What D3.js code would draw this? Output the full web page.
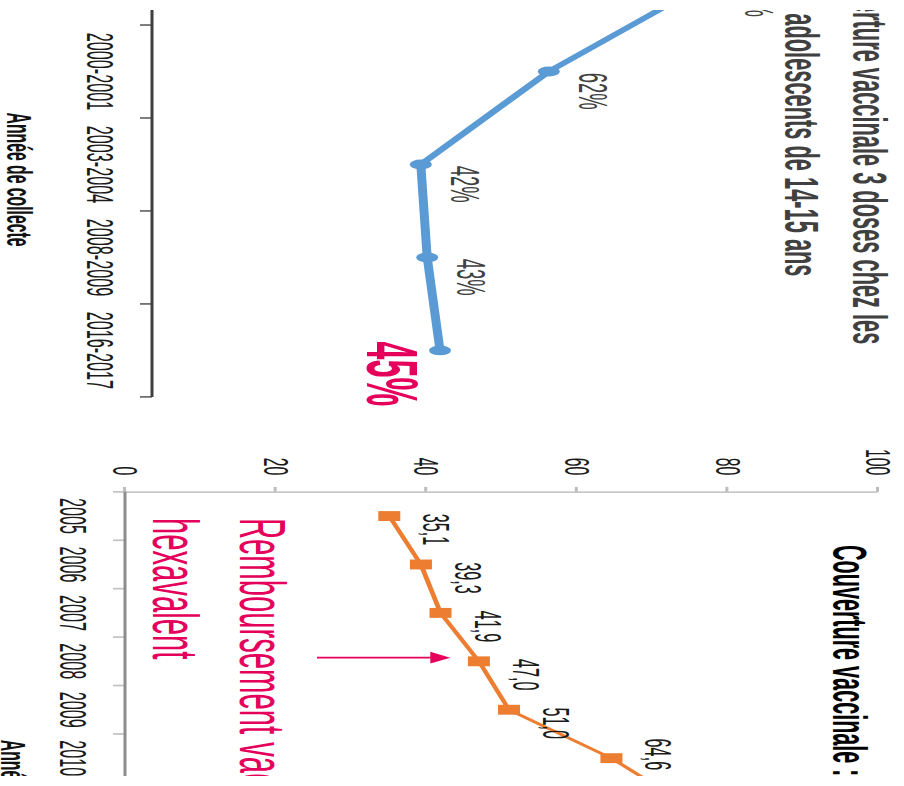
<!DOCTYPE html>
<html><head><meta charset="utf-8">
<script src="https://cdn.jsdelivr.net/npm/d3@7"></script>
<style>html,body{margin:0;padding:0;background:#fff;} svg{display:block;}</style>
</head><body>
<script>
// ---------- DATA ----------
const collecteYears = ["1998", "2000-2001", "2003-2004", "2008-2009", "2016-2017"];
const collecteValues = [88, 62, 42, 43, 45];
const birthYears = ["2005", "2006", "2007", "2008", "2009", "2010", "2011"];
const birthValues = [35.1, 39.3, 41.9, 47.0, 51.0, 64.6, 75];
const valueTicks = [0, 20, 40, 60, 80, 100];
const topTitle = ["Couverture vaccinale 3 doses chez les", "adolescents de 14-15 ans"];
const topAxisTitle = "Année de collecte";
const bottomTitle = "Couverture vaccinale :";
const bottomAxisTitle = "Année de naissance";
const annotation = ["Remboursement vaccin", "hexavalent"];
const annotationYear = "2008";
const annotationFrom = 25.5, annotationTo = 43.2;

// ---------- SETUP ----------
const W = 904, H = 786, S = 0.45;
const VIS_TOP = 10, VIS_BOTTOM = 776;          // visible window (picture px)
const FONT = "'Liberation Sans', Arial, sans-serif";
const BLUE = "#5b9bd5", ORANGE = "#ed7d31", PINK = "#e4005b";

const svg = d3.select("body").append("svg").attr("width", W).attr("height", H)
  .style("font-family", FONT);
svg.append("defs").append("clipPath").attr("id", "clip")
  .append("rect").attr("x", 0).attr("y", VIS_TOP).attr("width", W).attr("height", VIS_BOTTOM - VIS_TOP);
const outer = svg.append("g").attr("clip-path", "url(#clip)");
// chart drawn upright, then squeezed and rotated 90° clockwise
const g = outer.append("g").attr("transform", `translate(${W},0) rotate(90) scale(${S},1)`);
const uMin = VIS_TOP / S, uMax = VIS_BOTTOM / S;

// remove texts lying wholly outside the visible window
function dropHidden(sel) {
  sel.each(function() {
    const b = this.getBBox();
    if (b.x + b.width < uMin || b.x > uMax) d3.select(this).remove();
  });
}

// ---------- TOP PANEL (blue) ----------
const xTop = d3.scaleBand().domain(collecteYears).range([-151, 882]);
const yTop = d3.scaleLinear().domain([0, 100]).range([752, 112]);
const bwT = xTop.bandwidth();
const topG = g.append("g");

topG.append("line").attr("x1", xTop.range()[0]).attr("x2", xTop.range()[1])
  .attr("y1", yTop(0)).attr("y2", yTop(0)).attr("stroke", "#404040").attr("stroke-width", 3);
const topBounds = collecteYears.map(d => xTop(d)).concat([xTop.range()[1]]);
topG.selectAll(".tt").data(topBounds).enter().append("line")
  .attr("x1", d => d).attr("x2", d => d).attr("y1", yTop(0)).attr("y2", yTop(0) + 12)
  .attr("stroke", "#404040").attr("stroke-width", 3);
topG.selectAll(".tl").data(collecteYears).enter().append("text")
  .attr("x", d => xTop(d) + bwT / 2).attr("y", 817).attr("text-anchor", "middle")
  .attr("font-size", 36).attr("fill", "#1a1a1a").text(d => d)
  .call(dropHidden);
topG.append("text").attr("x", 399).attr("y", 897).attr("text-anchor", "middle")
  .attr("font-size", 35).attr("font-weight", "bold").attr("fill", "#111").text(topAxisTitle);

const topData = collecteYears.map((c, i) => ({c, v: collecteValues[i]}));
topG.append("path").datum(topData)
  .attr("d", d3.line().x(d => xTop(d.c) + bwT / 2).y(d => yTop(d.v)))
  .attr("fill", "none").attr("stroke", BLUE).attr("stroke-width", 9).attr("stroke-linejoin", "round");
topG.selectAll(".tm").data(topData).enter().append("circle")
  .attr("cx", d => xTop(d.c) + bwT / 2).attr("cy", d => yTop(d.v)).attr("r", 11).attr("fill", BLUE);
const lastT = topData.length - 1;
topG.selectAll(".tv").data(topData.slice(0, lastT)).enter().append("text")
  .attr("x", d => xTop(d.c) + bwT / 2 + 44).attr("y", d => yTop(d.v) - 30)
  .attr("text-anchor", "middle").attr("font-size", 41).attr("fill", "#404040")
  .text(d => d.v + "%");
topG.append("text").datum(topData[lastT])
  .attr("x", d => xTop(d.c) + bwT / 2 + 52).attr("y", d => yTop(d.v) + 73)
  .attr("text-anchor", "middle").attr("font-size", 72).attr("font-weight", "bold")
  .attr("fill", PINK).text(d => d.v + "%");
topG.selectAll(".ttl").data(topTitle).enter().append("text")
  .attr("x", 322).attr("y", (d, i) => 51 + i * 68).attr("text-anchor", "middle")
  .attr("font-size", 48.5).attr("font-weight", "bold").attr("fill", "#404040").text(d => d);

// ---------- BOTTOM PANEL (orange) ----------
const xBot = d3.scaleBand().domain(birthYears).range([1093, 1093 + 107.6 * birthYears.length]);
const yBot = d3.scaleLinear().domain([0, 100]).range([779, 26]);
const bwB = xBot.bandwidth();
const bot = g.append("g");

const yAxis = bot.append("g").attr("transform", `translate(${xBot.range()[0]},0)`)
  .call(d3.axisLeft(yBot).tickValues(valueTicks).tickSize(11).tickSizeOuter(0).tickPadding(26));
yAxis.select(".domain").attr("stroke", "#c8c8c8").attr("stroke-width", 4);
yAxis.selectAll(".tick line").attr("stroke", "#bdbdbd").attr("stroke-width", 3);
yAxis.selectAll(".tick text").attr("font-size", 35).attr("fill", "#1a1a1a").attr("font-family", FONT);

const botBounds = birthYears.map(d => xBot(d)).concat([xBot.range()[1]]);
bot.selectAll(".bt").data(botBounds).enter().append("line")
  .attr("x1", d => d).attr("x2", d => d).attr("y1", yBot(0)).attr("y2", yBot(0) + 12)
  .attr("stroke", "#c4c4c4").attr("stroke-width", 4);
bot.append("line").attr("x1", xBot.range()[0]).attr("x2", xBot.range()[1])
  .attr("y1", yBot(0)).attr("y2", yBot(0)).attr("stroke", "#8c8c8c").attr("stroke-width", 3);
bot.selectAll(".bl").data(birthYears).enter().append("text")
  .attr("x", d => xBot(d) + bwB / 2).attr("y", 844).attr("text-anchor", "middle")
  .attr("font-size", 36).attr("fill", "#1a1a1a").text(d => d)
  .call(dropHidden);
bot.append("text").attr("x", 1644).attr("y", 903).attr("text-anchor", "start")
  .attr("font-size", 35).attr("font-weight", "bold").attr("fill", "#111").text(bottomAxisTitle);

const fr = d3.formatLocale({decimal: ",", thousands: " ", grouping: [3], currency: ["", "€"]}).format(".1f");
const botData = birthYears.map((c, i) => ({c, v: birthValues[i]}));
bot.append("path").datum(botData)
  .attr("d", d3.line().x(d => xBot(d.c) + bwB / 2).y(d => yBot(d.v)))
  .attr("fill", "none").attr("stroke", ORANGE).attr("stroke-width", 5).attr("stroke-linejoin", "round");
bot.selectAll(".bm").data(botData).enter().append("rect")
  .attr("x", d => xBot(d.c) + bwB / 2 - 11).attr("y", d => yBot(d.v) - 11)
  .attr("width", 22).attr("height", 22).attr("fill", ORANGE);
// data labels: above-right of each point; labels of visible points are pulled back inside the window
bot.selectAll(".bv").data(botData).enter().append("text")
  .attr("y", d => yBot(d.v) - 34)
  .attr("text-anchor", "start").attr("font-size", 36).attr("fill", "#1a1a1a")
  .text(d => fr(d.v))
  .each(function(d) {
    const w = this.getComputedTextLength();
    const cx = xBot(d.c) + bwB / 2;
    let x = cx + 30 - w / 2;
    if (cx < uMax && x + w > uMax - 13) x = uMax - 13 - w;
    d3.select(this).attr("x", x);
  })
  .call(dropHidden);
bot.append("text").attr("x", 1211).attr("y", 71).attr("font-size", 48)
  .attr("font-weight", "bold").attr("fill", "#000").text(bottomTitle);

// annotation
bot.selectAll(".an").data(annotation).enter().append("text")
  .attr("x", 1151).attr("y", (d, i) => 664 + i * 87).attr("font-size", 65)
  .attr("fill", PINK).text(d => d);
const ax = xBot(annotationYear) + bwB / 2 - 8;
const tip = yBot(annotationTo);
bot.append("line").attr("x1", ax).attr("x2", ax).attr("y1", yBot(annotationFrom)).attr("y2", tip + 16)
  .attr("stroke", PINK).attr("stroke-width", 4);
bot.append("path").attr("d", `M${ax},${tip}L${ax - 13},${tip + 20}L${ax + 13},${tip + 20}Z`).attr("fill", PINK);
</script>
</body></html>
